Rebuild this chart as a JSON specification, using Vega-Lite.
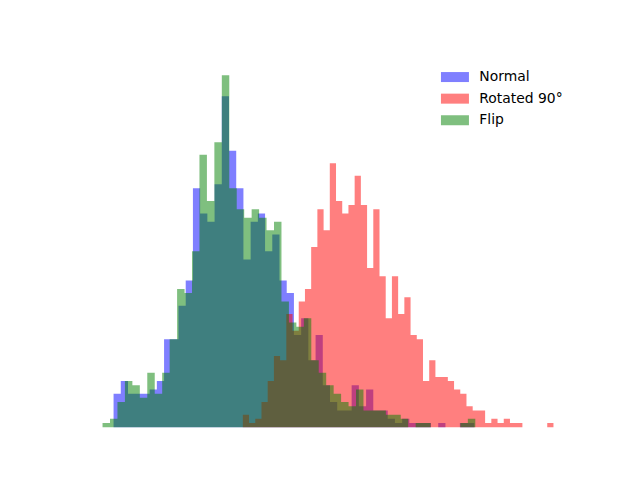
{
  "$schema": "https://vega.github.io/schema/vega-lite/v6.json",
  "width": 496,
  "height": 369.6,
  "autosize": {"type": "none"},
  "padding": {"left": 80, "top": 57.6, "right": 64, "bottom": 52.8},
  "background": "white",
  "config": {"view": {"stroke": null}},
  "data": {"values": [
    {"series":"Normal","start":11,"end":18.2,"count":8},
    {"series":"Normal","start":18.2,"end":25.4,"count":11},
    {"series":"Normal","start":25.4,"end":32.6,"count":8},
    {"series":"Normal","start":32.6,"end":39.8,"count":8},
    {"series":"Normal","start":39.8,"end":47,"count":8},
    {"series":"Normal","start":47,"end":54.2,"count":9},
    {"series":"Normal","start":54.2,"end":61.4,"count":11},
    {"series":"Normal","start":61.4,"end":68.6,"count":21},
    {"series":"Normal","start":68.6,"end":75.8,"count":21},
    {"series":"Normal","start":75.8,"end":83,"count":29},
    {"series":"Normal","start":83,"end":90.2,"count":35},
    {"series":"Normal","start":90.2,"end":97.4,"count":57},
    {"series":"Normal","start":97.4,"end":104.6,"count":51},
    {"series":"Normal","start":104.6,"end":111.8,"count":49},
    {"series":"Normal","start":111.8,"end":119,"count":58},
    {"series":"Normal","start":119,"end":126.2,"count":79},
    {"series":"Normal","start":126.2,"end":133.4,"count":66},
    {"series":"Normal","start":133.4,"end":140.6,"count":57},
    {"series":"Normal","start":140.6,"end":147.8,"count":40},
    {"series":"Normal","start":147.8,"end":155,"count":49},
    {"series":"Normal","start":155,"end":162.2,"count":51},
    {"series":"Normal","start":162.2,"end":169.4,"count":42},
    {"series":"Normal","start":169.4,"end":176.6,"count":46},
    {"series":"Normal","start":176.6,"end":183.8,"count":35},
    {"series":"Normal","start":183.8,"end":191,"count":32},
    {"series":"Normal","start":191,"end":198.2,"count":22},
    {"series":"Normal","start":198.2,"end":205.4,"count":26},
    {"series":"Normal","start":205.4,"end":212.6,"count":16},
    {"series":"Normal","start":212.6,"end":219.8,"count":22},
    {"series":"Normal","start":219.8,"end":227,"count":10},
    {"series":"Normal","start":227,"end":234.2,"count":6},
    {"series":"Normal","start":234.2,"end":241.4,"count":4},
    {"series":"Normal","start":241.4,"end":248.6,"count":4},
    {"series":"Normal","start":248.6,"end":255.8,"count":10},
    {"series":"Normal","start":255.8,"end":263,"count":5},
    {"series":"Normal","start":263,"end":270.2,"count":9},
    {"series":"Normal","start":270.2,"end":277.4,"count":4},
    {"series":"Normal","start":277.4,"end":284.6,"count":4},
    {"series":"Normal","start":284.6,"end":291.8,"count":2},
    {"series":"Normal","start":291.8,"end":299,"count":1},
    {"series":"Normal","start":299,"end":306.2,"count":2},
    {"series":"Normal","start":306.2,"end":313.4,"count":1},
    {"series":"Normal","start":313.4,"end":320.6,"count":1},
    {"series":"Normal","start":320.6,"end":327.8,"count":1},
    {"series":"Normal","start":327.8,"end":335,"count":0},
    {"series":"Normal","start":335,"end":342.2,"count":1},
    {"series":"Normal","start":342.2,"end":349.4,"count":0},
    {"series":"Normal","start":349.4,"end":356.6,"count":0},
    {"series":"Normal","start":356.6,"end":363.8,"count":1},
    {"series":"Normal","start":363.8,"end":371,"count":1},
    {"series":"Rotated 90°","start":140,"end":146.2,"count":3},
    {"series":"Rotated 90°","start":146.2,"end":152.4,"count":1},
    {"series":"Rotated 90°","start":152.4,"end":158.6,"count":2},
    {"series":"Rotated 90°","start":158.6,"end":164.8,"count":6},
    {"series":"Rotated 90°","start":164.8,"end":171,"count":11},
    {"series":"Rotated 90°","start":171,"end":177.2,"count":17},
    {"series":"Rotated 90°","start":177.2,"end":183.4,"count":16},
    {"series":"Rotated 90°","start":183.4,"end":189.6,"count":27},
    {"series":"Rotated 90°","start":189.6,"end":195.8,"count":23},
    {"series":"Rotated 90°","start":195.8,"end":202,"count":30},
    {"series":"Rotated 90°","start":202,"end":208.2,"count":33},
    {"series":"Rotated 90°","start":208.2,"end":214.4,"count":43},
    {"series":"Rotated 90°","start":214.4,"end":220.6,"count":52},
    {"series":"Rotated 90°","start":220.6,"end":226.8,"count":47},
    {"series":"Rotated 90°","start":226.8,"end":233,"count":63},
    {"series":"Rotated 90°","start":233,"end":239.2,"count":54},
    {"series":"Rotated 90°","start":239.2,"end":245.4,"count":51},
    {"series":"Rotated 90°","start":245.4,"end":251.6,"count":53},
    {"series":"Rotated 90°","start":251.6,"end":257.8,"count":60},
    {"series":"Rotated 90°","start":257.8,"end":264,"count":53},
    {"series":"Rotated 90°","start":264,"end":270.2,"count":38},
    {"series":"Rotated 90°","start":270.2,"end":276.4,"count":52},
    {"series":"Rotated 90°","start":276.4,"end":282.6,"count":36},
    {"series":"Rotated 90°","start":282.6,"end":288.8,"count":26},
    {"series":"Rotated 90°","start":288.8,"end":295,"count":36},
    {"series":"Rotated 90°","start":295,"end":301.2,"count":27},
    {"series":"Rotated 90°","start":301.2,"end":307.4,"count":31},
    {"series":"Rotated 90°","start":307.4,"end":313.6,"count":22},
    {"series":"Rotated 90°","start":313.6,"end":319.8,"count":21},
    {"series":"Rotated 90°","start":319.8,"end":326,"count":11},
    {"series":"Rotated 90°","start":326,"end":332.2,"count":16},
    {"series":"Rotated 90°","start":332.2,"end":338.4,"count":12},
    {"series":"Rotated 90°","start":338.4,"end":344.6,"count":12},
    {"series":"Rotated 90°","start":344.6,"end":350.8,"count":11},
    {"series":"Rotated 90°","start":350.8,"end":357,"count":9},
    {"series":"Rotated 90°","start":357,"end":363.2,"count":8},
    {"series":"Rotated 90°","start":363.2,"end":369.4,"count":5},
    {"series":"Rotated 90°","start":369.4,"end":375.6,"count":4},
    {"series":"Rotated 90°","start":375.6,"end":381.8,"count":4},
    {"series":"Rotated 90°","start":381.8,"end":388,"count":1},
    {"series":"Rotated 90°","start":388,"end":394.2,"count":2},
    {"series":"Rotated 90°","start":394.2,"end":400.4,"count":1},
    {"series":"Rotated 90°","start":400.4,"end":406.6,"count":2},
    {"series":"Rotated 90°","start":406.6,"end":412.8,"count":1},
    {"series":"Rotated 90°","start":412.8,"end":419,"count":1},
    {"series":"Rotated 90°","start":419,"end":425.2,"count":0},
    {"series":"Rotated 90°","start":425.2,"end":431.4,"count":0},
    {"series":"Rotated 90°","start":431.4,"end":437.6,"count":0},
    {"series":"Rotated 90°","start":437.6,"end":443.8,"count":0},
    {"series":"Rotated 90°","start":443.8,"end":450,"count":1},
    {"series":"Flip","start":0,"end":7.44,"count":1},
    {"series":"Flip","start":7.44,"end":14.88,"count":2},
    {"series":"Flip","start":14.88,"end":22.32,"count":6},
    {"series":"Flip","start":22.32,"end":29.76,"count":11},
    {"series":"Flip","start":29.76,"end":37.2,"count":10},
    {"series":"Flip","start":37.2,"end":44.64,"count":7},
    {"series":"Flip","start":44.64,"end":52.08,"count":13},
    {"series":"Flip","start":52.08,"end":59.52,"count":8},
    {"series":"Flip","start":59.52,"end":66.96,"count":13},
    {"series":"Flip","start":66.96,"end":74.4,"count":21},
    {"series":"Flip","start":74.4,"end":81.84,"count":33},
    {"series":"Flip","start":81.84,"end":89.28,"count":32},
    {"series":"Flip","start":89.28,"end":96.72,"count":42},
    {"series":"Flip","start":96.72,"end":104.16,"count":65},
    {"series":"Flip","start":104.16,"end":111.6,"count":54},
    {"series":"Flip","start":111.6,"end":119.04,"count":68},
    {"series":"Flip","start":119.04,"end":126.48,"count":84},
    {"series":"Flip","start":126.48,"end":133.92,"count":57},
    {"series":"Flip","start":133.92,"end":141.36,"count":52},
    {"series":"Flip","start":141.36,"end":148.8,"count":50},
    {"series":"Flip","start":148.8,"end":156.24,"count":52},
    {"series":"Flip","start":156.24,"end":163.68,"count":50},
    {"series":"Flip","start":163.68,"end":171.12,"count":47},
    {"series":"Flip","start":171.12,"end":178.56,"count":49},
    {"series":"Flip","start":178.56,"end":186,"count":30},
    {"series":"Flip","start":186,"end":193.44,"count":25},
    {"series":"Flip","start":193.44,"end":200.88,"count":24},
    {"series":"Flip","start":200.88,"end":208.32,"count":26},
    {"series":"Flip","start":208.32,"end":215.76,"count":16},
    {"series":"Flip","start":215.76,"end":223.2,"count":13},
    {"series":"Flip","start":223.2,"end":230.64,"count":10},
    {"series":"Flip","start":230.64,"end":238.08,"count":8},
    {"series":"Flip","start":238.08,"end":245.52,"count":6},
    {"series":"Flip","start":245.52,"end":252.96,"count":5},
    {"series":"Flip","start":252.96,"end":260.4,"count":9},
    {"series":"Flip","start":260.4,"end":267.84,"count":4},
    {"series":"Flip","start":267.84,"end":275.28,"count":4},
    {"series":"Flip","start":275.28,"end":282.72,"count":4},
    {"series":"Flip","start":282.72,"end":290.16,"count":3},
    {"series":"Flip","start":290.16,"end":297.6,"count":3},
    {"series":"Flip","start":297.6,"end":305.04,"count":2},
    {"series":"Flip","start":305.04,"end":312.48,"count":0},
    {"series":"Flip","start":312.48,"end":319.92,"count":1},
    {"series":"Flip","start":319.92,"end":327.36,"count":1},
    {"series":"Flip","start":327.36,"end":334.8,"count":0},
    {"series":"Flip","start":334.8,"end":342.24,"count":0},
    {"series":"Flip","start":342.24,"end":349.68,"count":0},
    {"series":"Flip","start":349.68,"end":357.12,"count":0},
    {"series":"Flip","start":357.12,"end":364.56,"count":1},
    {"series":"Flip","start":364.56,"end":372,"count":2}
  ]},
  "encoding": {
    "x": {"field": "edgeValue", "type": "quantitative", "scale": {"domain": [-22.5, 472.5], "nice": false, "zero": false}, "axis": null},
    "y": {"field": "count", "type": "quantitative", "scale": {"domain": [0, 88.2], "nice": false}, "axis": null, "stack": null},
    "color": {
      "field": "series", "type": "nominal",
      "scale": {"domain": ["Normal", "Rotated 90°", "Flip"], "range": ["blue", "red", "green"]},
      "legend": {
        "title": null, "orient": "none", "legendX": 368, "legendY": 12.5,
        "symbolType": "M-2.8,-1H2.8V1H-2.8Z", "symbolSize": 100,
        "symbolOpacity": 0.5, "symbolFillOpacity": 1, "symbolStrokeWidth": 0,
        "labelFont": "DejaVu Sans", "labelFontSize": 13.9, "labelColor": "black",
        "labelOffset": 17.4, "rowPadding": 6.6, "padding": 0
      }
    }
  },
  "layer": [
    {"transform": [{"filter": {"field": "series", "equal": "Normal"}}, {"fold": ["start", "end"], "as": ["edge", "edgeValue"]}], "mark": {"type": "area", "opacity": 0.5, "interpolate": "linear"}},
    {"transform": [{"filter": {"field": "series", "equal": "Rotated 90°"}}, {"fold": ["start", "end"], "as": ["edge", "edgeValue"]}], "mark": {"type": "area", "opacity": 0.5, "interpolate": "linear"}},
    {"transform": [{"filter": {"field": "series", "equal": "Flip"}}, {"fold": ["start", "end"], "as": ["edge", "edgeValue"]}], "mark": {"type": "area", "opacity": 0.5, "interpolate": "linear"}}
  ]
}
